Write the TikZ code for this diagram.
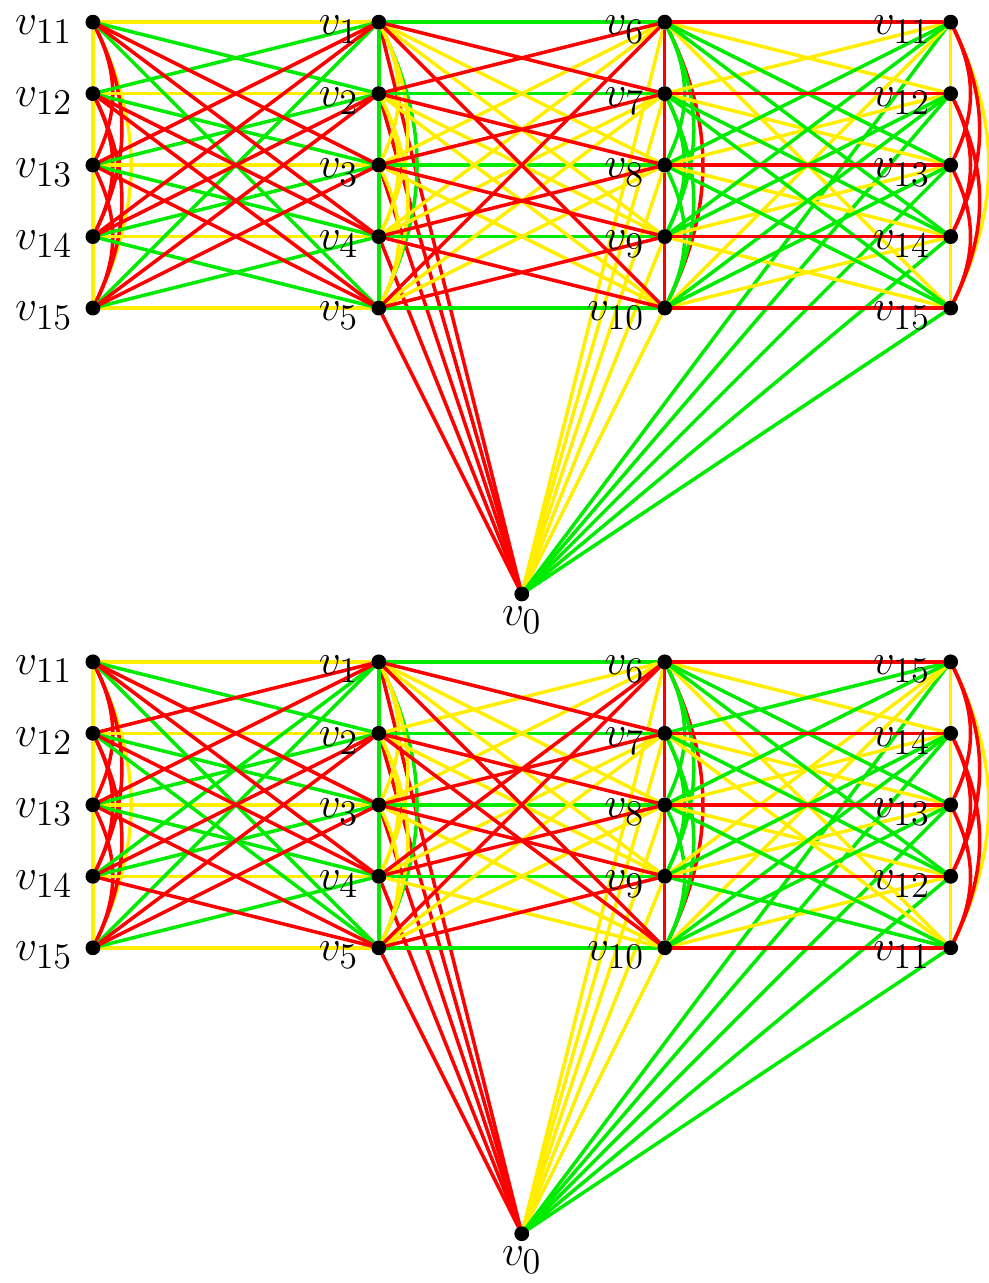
\documentclass[tikz,border=0pt]{standalone}
\usepackage{xcolor}
\usepackage{amsmath, amssymb}
\usepackage{tikz}
\usetikzlibrary{backgrounds}

\definecolor{ered}{RGB}{255,0,0}
\definecolor{egreen}{RGB}{0,235,0}
\definecolor{eyellow}{RGB}{255,238,0}

\begin{document}
\begin{tikzpicture}[
    vtx/.style={draw, circle, fill=black, inner sep=0pt, minimum size=5.5pt},
    lab/.style={label={[yshift=-3pt]left:$v_{#1}$}},
    re/.style={ered, line width=1.4pt},
    gr/.style={egreen, line width=1.4pt},
    ye/.style={eyellow, line width=1.4pt},
    bulge/.style={bend left=26},
    label distance=3pt,
    every label/.style={font=\fontsize{19}{22}\selectfont, inner sep=2pt}
]
\useasboundingbox (-1.30, 0.31) rectangle (12.53, -17.64);

% upper colouring
\node[vtx, label={[label distance=0pt]below:$v_0$}] at (6, -8) (t0) {};
\foreach \n [count=\k from 0] in {11,...,15} {
    \node[vtx, lab=\n] at (0, -\k) (tl\n) {};
    \node[vtx, lab=\n] at (12, -\k) (tr\n) {};
}
\foreach \n [count=\k from 0] in {1,...,5} \node[vtx, lab=\n] at (4, -\k) (t\n) {};
\foreach \n [count=\k from 0] in {6,...,10} \node[vtx, lab=\n] at (8, -\k) (t\n) {};

% lower colouring
\begin{scope}[yshift=-8.95cm]
    \node[vtx, label={[label distance=0pt]below:$v_0$}] at (6, -8) (b0) {};
    \foreach \n [count=\k from 0] in {11,...,15} \node[vtx, lab=\n] at (0, -\k) (bl\n) {};
    \foreach \n [count=\k from 0] in {15,14,...,11} \node[vtx, lab=\n] at (12, -\k) (br\n) {};
    \foreach \n [count=\k from 0] in {1,...,5} \node[vtx, lab=\n] at (4, -\k) (b\n) {};
    \foreach \n [count=\k from 0] in {6,...,10} \node[vtx, lab=\n] at (8, -\k) (b\n) {};
\end{scope}

\begin{scope}[on background layer]
    % upper: v0
    \foreach \n in {1,...,5} \draw[re] (t0) -- (t\n);
    \foreach \n in {6,...,10} \draw[ye] (t0) -- (t\n);
    \foreach \n in {11,...,15} \draw[gr] (t0) -- (tr\n);

    % upper: columns
    \foreach \col in {tl,tr} {
        \draw[ye] (\col11) -- (\col12) -- (\col13) -- (\col14) -- (\col15);
        \draw[ye] (\col11) to[bulge] (\col15);
        \foreach \a/\b in {11/13,12/14,13/15,11/14,12/15} \draw[re] (\col\a) to[bulge] (\col\b);
    }
    \draw[gr] (t1) -- (t2) -- (t3) -- (t4) -- (t5);
    \draw[gr] (t1) to[bulge] (t5);
    \foreach \a/\b in {1/3,2/4,3/5,1/4,2/5} \draw[ye] (t\a) to[bulge] (t\b);
    \draw[re] (t6) -- (t7) -- (t8) -- (t9) -- (t10);
    \draw[re] (t6) to[bulge] (t10);
    \foreach \a/\b in {6/8,7/9,8/10,6/9,7/10} \draw[gr] (t\a) to[bulge] (t\b);

    % upper: v11..v15 - v1..v5
    \foreach \a/\b in {11/1,12/2,13/3,14/4,15/5} \draw[ye] (tl\a) -- (t\b);
    \foreach \a/\b in {11/2,11/5,12/1,12/3,13/2,13/4,14/3,14/5,15/1,15/4} \draw[gr] (tl\a) -- (t\b);
    \foreach \a/\b in {11/3,11/4,12/4,12/5,13/1,13/5,14/1,14/2,15/2,15/3} \draw[re] (tl\a) -- (t\b);
    % upper: v1..v5 - v6..v10
    \foreach \a/\b in {1/6,2/7,3/8,4/9,5/10} \draw[gr] (t\a) -- (t\b);
    \foreach \a/\b in {1/8,1/9,2/9,2/10,3/6,3/10,4/6,4/7,5/7,5/8} \draw[ye] (t\a) -- (t\b);
    \foreach \a/\b in {1/7,1/10,2/6,2/8,3/7,3/9,4/8,4/10,5/6,5/9} \draw[re] (t\a) -- (t\b);
    % upper: v6..v10 - v11..v15
    \foreach \a/\b in {6/12,6/15,7/11,7/13,8/12,8/14,9/13,9/15,10/11,10/14} \draw[ye] (t\a) -- (tr\b);
    \foreach \a/\b in {6/13,6/14,7/14,7/15,8/11,8/15,9/11,9/12,10/12,10/13} \draw[gr] (t\a) -- (tr\b);
    \foreach \a/\b in {6/11,7/12,8/13,9/14,10/15} \draw[re] (t\a) -- (tr\b);

    % lower: v0
    \foreach \n in {1,...,5} \draw[re] (b0) -- (b\n);
    \foreach \n in {6,...,10} \draw[ye] (b0) -- (b\n);
    \foreach \n in {11,...,15} \draw[gr] (b0) -- (br\n);

    % lower: columns
    \draw[ye] (bl11) -- (bl12) -- (bl13) -- (bl14) -- (bl15);
    \draw[ye] (bl11) to[bulge] (bl15);
    \foreach \a/\b in {11/13,12/14,13/15,11/14,12/15} \draw[re] (bl\a) to[bulge] (bl\b);
    \draw[ye] (br15) -- (br14) -- (br13) -- (br12) -- (br11);
    \draw[ye] (br15) to[bulge] (br11);
    \foreach \a/\b in {15/13,14/12,13/11,15/12,14/11} \draw[re] (br\a) to[bulge] (br\b);
    \draw[gr] (b1) -- (b2) -- (b3) -- (b4) -- (b5);
    \draw[gr] (b1) to[bulge] (b5);
    \foreach \a/\b in {1/3,2/4,3/5,1/4,2/5} \draw[ye] (b\a) to[bulge] (b\b);
    \draw[re] (b6) -- (b7) -- (b8) -- (b9) -- (b10);
    \draw[re] (b6) to[bulge] (b10);
    \foreach \a/\b in {6/8,7/9,8/10,6/9,7/10} \draw[gr] (b\a) to[bulge] (b\b);

    % lower: v11..v15 - v1..v5
    \foreach \a/\b in {11/1,12/2,13/3,14/4,15/5} \draw[ye] (bl\a) -- (b\b);
    \foreach \a/\b in {11/2,11/5,12/3,12/5,13/2,13/4,14/1,14/3,15/1,15/4} \draw[gr] (bl\a) -- (b\b);
    \foreach \a/\b in {11/3,11/4,12/1,12/4,13/1,13/5,14/2,14/5,15/2,15/3} \draw[re] (bl\a) -- (b\b);
    % lower: v1..v5 - v6..v10
    \foreach \a/\b in {1/6,2/7,3/8,4/9,5/10} \draw[gr] (b\a) -- (b\b);
    \foreach \a/\b in {1/8,1/9,2/6,2/9,3/6,3/10,4/7,4/10,5/7,5/8} \draw[ye] (b\a) -- (b\b);
    \foreach \a/\b in {1/7,1/10,2/8,2/10,3/7,3/9,4/6,4/8,5/6,5/9} \draw[re] (b\a) -- (b\b);
    % lower: v6..v10 - v11..v15
    \foreach \a/\b in {6/11,6/14,7/11,7/13,8/12,8/14,9/13,9/15,10/12,10/15} \draw[ye] (b\a) -- (br\b);
    \foreach \a/\b in {6/12,6/13,7/12,7/15,8/11,8/15,9/11,9/14,10/13,10/14} \draw[gr] (b\a) -- (br\b);
    \foreach \a/\b in {6/15,7/14,8/13,9/12,10/11} \draw[re] (b\a) -- (br\b);
\end{scope}
\end{tikzpicture}
\end{document}
